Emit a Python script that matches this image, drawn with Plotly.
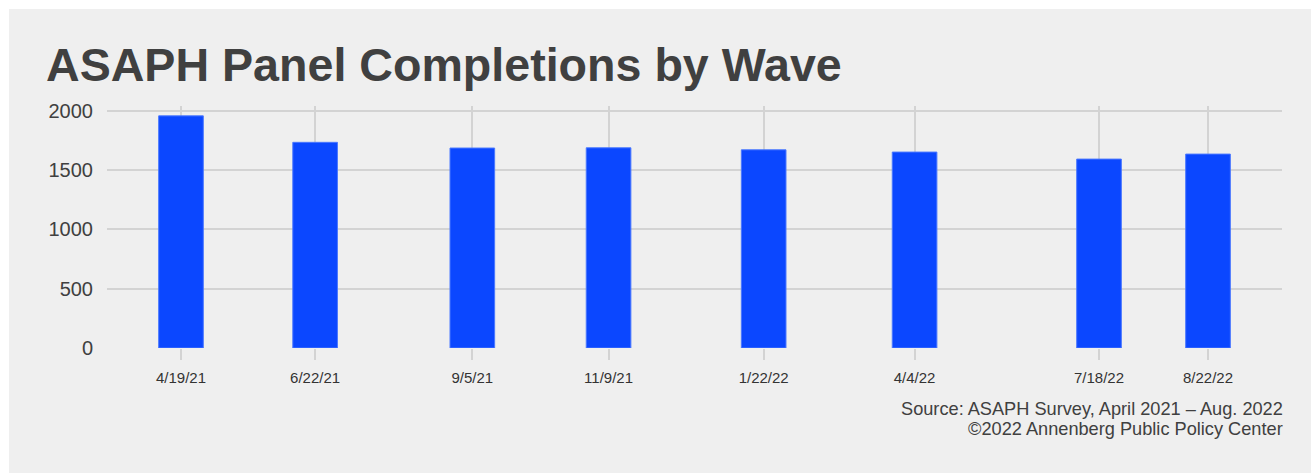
import pandas as pd
import plotly.graph_objects as go

# Wave plot positions, their axis labels and completed interviews
wave_dates = ["2021-04-19", "2021-06-22", "2021-09-05", "2021-11-09",
              "2022-01-22", "2022-04-04", "2022-07-01", "2022-08-22"]
wave_labels = ["4/19/21", "6/22/21", "9/5/21", "11/9/21",
               "1/22/22", "4/4/22", "7/18/22", "8/22/22"]
completions = [1955, 1732, 1684, 1686, 1669, 1650, 1591, 1633]
y_ticks = [0, 500, 1000, 1500, 2000]
source_lines = ["Source: ASAPH Survey, April 2021 – Aug. 2022",
                "©2022 Annenberg Public Policy Center"]

W, H = 1311, 473
L, R, T, B = 107, 29, 106, 125
pw, ph = W - L - R, H - T - B

FONT = "Liberation Sans, Arial, sans-serif"
PANEL = "#efefef"
GRID = "#d3d3d3"
TEXT = "#404040"

dates = pd.to_datetime(wave_dates)
pad = pd.Timedelta(days=35.3)
day_ms = 86400000

fig = go.Figure(go.Bar(
    x=dates,
    y=completions,
    width=21.3 * day_ms,
    marker=dict(color="#0b47ff", line=dict(color="#4a78ff", width=1)),
    hoverinfo="y",
))

def px_x(p):
    return (p - L) / pw

def px_y(p):
    return (H - B - p) / ph

annotations = [dict(
    text="<b>ASAPH Panel Completions by Wave</b>",
    xref="paper", yref="paper",
    x=px_x(44), y=px_y(65), xanchor="left", yanchor="middle",
    showarrow=False,
    font=dict(size=46.6, color=TEXT, family=FONT),
)]
for line, cy in zip(source_lines, [409, 429]):
    annotations.append(dict(
        text=line, xref="paper", yref="paper",
        x=px_x(1285), y=px_y(cy), xanchor="right", yanchor="middle",
        align="right", showarrow=False,
        font=dict(size=18.2, color=TEXT, family=FONT),
    ))

fig.update_layout(
    width=W, height=H,
    margin=dict(l=L, r=R, t=T, b=B),
    paper_bgcolor="white",
    plot_bgcolor="rgba(0,0,0,0)",
    showlegend=False,
    font=dict(family=FONT, color=TEXT),
    xaxis=dict(
        type="date",
        range=[dates.min() - pad, dates.max() + pad],
        tickvals=dates,
        ticktext=wave_labels,
        showgrid=True, gridcolor=GRID, gridwidth=2,
        ticks="outside", ticklen=11, tickwidth=2, tickcolor=GRID,
        ticklabelstandoff=5,
        tickfont=dict(size=15, color="#333333", family=FONT),
        showline=False, zeroline=False,
    ),
    yaxis=dict(
        range=[0, 2038],
        tickvals=y_ticks,
        showgrid=True, gridcolor=GRID, gridwidth=2,
        zeroline=False, showline=False,
        ticks="", ticklabelstandoff=13,
        tickfont=dict(size=20, color=TEXT, family=FONT),
    ),
    shapes=[dict(
        type="rect", xref="paper", yref="paper", layer="below",
        x0=px_x(9), x1=px_x(W + 20), y0=px_y(H + 20), y1=px_y(9),
        fillcolor=PANEL, line=dict(width=0),
    )],
    annotations=annotations,
)

fig.write_html("out.html")
